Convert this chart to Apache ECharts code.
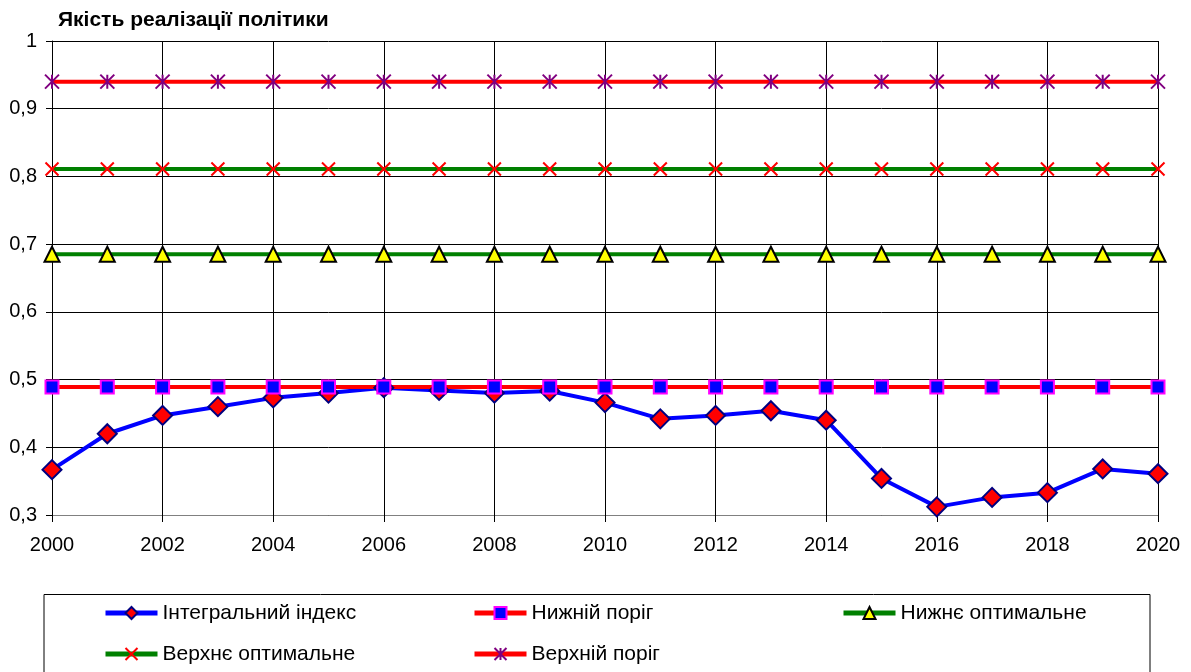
<!DOCTYPE html>
<html>
<head>
<meta charset="utf-8">
<script src="https://cdn.jsdelivr.net/npm/echarts@6/dist/echarts.min.js"></script>
<style>
  html, body { margin: 0; padding: 0; background: #fff; }
  #chart { width: 1191px; height: 672px; }
</style>
</head>
<body>
<div id="chart"></div>
<script>
// Years on the horizontal axis
const years = ['2000','2001','2002','2003','2004','2005','2006','2007','2008','2009','2010',
               '2011','2012','2013','2014','2015','2016','2017','2018','2019','2020'];

// Integral index of policy implementation quality
const integralIndex = [0.367, 0.420, 0.447, 0.460, 0.473, 0.480, 0.488, 0.484, 0.480, 0.483, 0.466,
                       0.442, 0.447, 0.454, 0.440, 0.354, 0.312, 0.326, 0.333, 0.368, 0.361];

// Threshold levels (constant over the period)
const lowerThreshold = years.map(() => 0.489);
const lowerOptimal   = years.map(() => 0.685);
const upperOptimal   = years.map(() => 0.811);
const upperThreshold = years.map(() => 0.940);

const names = {
  integral: 'Інтегральний індекс',
  lowThr: 'Нижній поріг',
  lowOpt: 'Нижнє оптимальне',
  upOpt: 'Верхнє оптимальне',
  upThr: 'Верхній поріг'
};
const titleText = 'Якість реалізації політики';

const FONT = 'Arial, "Liberation Sans", sans-serif';
const crossPath = 'path://M0,0L10,10M10,0L0,10';
const starPath = 'path://M0,0L10,10M10,0L0,10M5,0L5,10';

const chart = echarts.init(document.getElementById('chart'), null, { renderer: 'canvas' });

// One legend entry per block so the two rows line up in uneven columns
function legendEntry(name, left, top) {
  return {
    data: [name], left: left, top: top, orient: 'horizontal', padding: 0,
    itemWidth: 52, itemHeight: 15, selectedMode: false,
    lineStyle: { width: 5 },
    textStyle: { fontFamily: FONT, fontSize: 21, color: '#000', lineHeight: 22 }
  };
}

chart.setOption({
  animation: false,
  backgroundColor: '#fff',
  title: {
    text: titleText, left: 53, top: 5,
    textStyle: { fontFamily: FONT, fontSize: 21, fontWeight: 'bold', color: '#000' }
  },
  graphic: [{
    type: 'rect', shape: { x: 44, y: 594.5, width: 1106, height: 120 },
    style: { fill: 'none', stroke: '#000', lineWidth: 1 }, silent: true
  }],
  legend: [
    legendEntry(names.integral, 103, 602),
    legendEntry(names.lowThr, 472, 602),
    legendEntry(names.lowOpt, 841, 602),
    legendEntry(names.upOpt, 103, 643),
    legendEntry(names.upThr, 472, 643)
  ],
  grid: { left: 52, right: 33, top: 41, bottom: 157, containLabel: false },
  xAxis: {
    type: 'category', data: years, boundaryGap: false,
    axisLine: { show: true, lineStyle: { color: '#808080', width: 1 } },
    axisTick: { show: true, interval: 1, length: 7, lineStyle: { color: '#000' } },
    axisLabel: { interval: 1, margin: 20, fontFamily: FONT, fontSize: 20, color: '#000' },
    splitLine: { show: true, interval: 1, lineStyle: { color: '#000', width: 1 } }
  },
  yAxis: {
    type: 'value', min: 0.3, max: 1, interval: 0.1,
    axisLine: { show: true, lineStyle: { color: '#000', width: 1 } },
    axisTick: { show: true, length: 6, lineStyle: { color: '#000' } },
    axisLabel: {
      margin: 15, fontFamily: FONT, fontSize: 20, color: '#000',
      formatter: v => String(Math.round(v * 10) / 10).replace('.', ',')
    },
    splitLine: { show: true, lineStyle: { color: '#000', width: 1 } }
  },
  series: [
    {
      name: names.integral, type: 'line', data: integralIndex,
      symbol: 'diamond', symbolSize: 19, showAllSymbol: true,
      lineStyle: { color: '#0000FF', width: 4 },
      itemStyle: { color: '#FF0000', borderColor: '#000080', borderWidth: 2 }
    },
    {
      name: names.lowThr, type: 'line', data: lowerThreshold,
      symbol: 'rect', symbolSize: 13, showAllSymbol: true,
      lineStyle: { color: '#FF0000', width: 4 },
      itemStyle: { color: '#0000FF', borderColor: '#FF00FF', borderWidth: 2 }
    },
    {
      name: names.lowOpt, type: 'line', data: lowerOptimal,
      symbol: 'triangle', symbolSize: 15, showAllSymbol: true,
      lineStyle: { color: '#008000', width: 4 },
      itemStyle: { color: '#FFFF00', borderColor: '#000000', borderWidth: 2 }
    },
    {
      name: names.upOpt, type: 'line', data: upperOptimal,
      symbol: crossPath, symbolSize: 13, showAllSymbol: true,
      lineStyle: { color: '#008000', width: 4 },
      itemStyle: { color: 'rgba(0,0,0,0)', borderColor: '#FF0000', borderWidth: 2 }
    },
    {
      name: names.upThr, type: 'line', data: upperThreshold,
      symbol: starPath, symbolSize: 14, showAllSymbol: true,
      lineStyle: { color: '#FF0000', width: 4 },
      itemStyle: { color: 'rgba(0,0,0,0)', borderColor: '#800080', borderWidth: 2 }
    }
  ]
});
</script>
</body>
</html>
